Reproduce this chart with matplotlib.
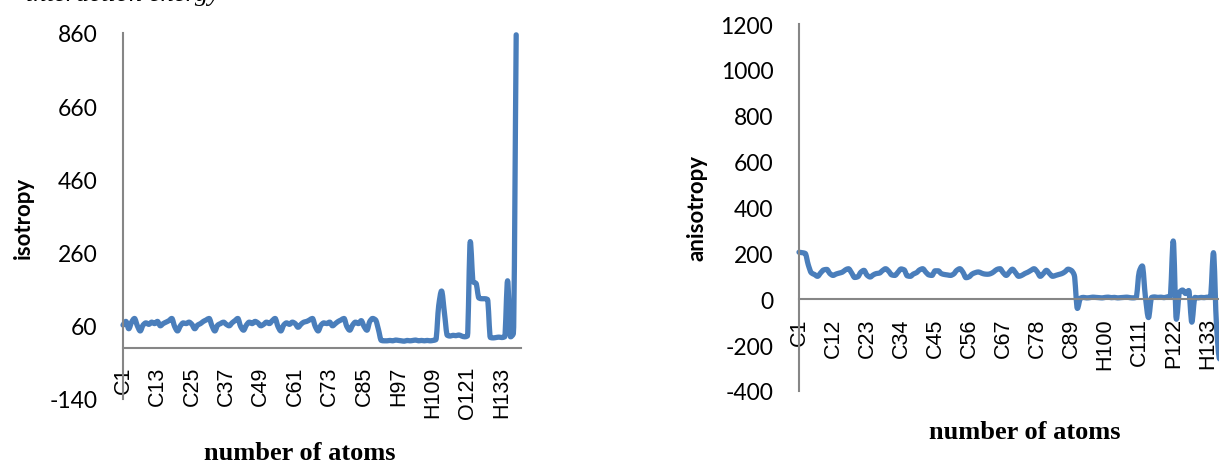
import matplotlib
matplotlib.use("Agg")
import matplotlib.pyplot as plt
from matplotlib.path import Path
from matplotlib.patches import PathPatch

W, H = 1219, 464
DPI = 100

# atom names: element runs, numbered in order
element_runs = [("C", 90), ("H", 20), ("C", 2), ("H", 8), ("O", 1), ("P", 1), ("O", 4), ("H", 12)]
atoms = []
for el, n in element_runs:
    for k in range(n):
        atoms.append(el + str(len(atoms) + 1))

isotropy = [
    62, 72, 52, 70, 80, 60, 46, 62, 68, 64, 70, 66,
    72, 60, 66, 70, 74, 80, 58, 46, 60, 68, 66, 70,
    64, 52, 62, 66, 72, 76, 80, 60, 46, 62, 66, 70,
    64, 60, 68, 74, 80, 58, 48, 62, 70, 66, 72, 68,
    60, 64, 70, 66, 74, 80, 58, 46, 62, 68, 64, 70,
    66, 56, 64, 70, 72, 76, 80, 58, 46, 62, 68, 66,
    70, 60, 66, 72, 76, 80, 58, 48, 62, 70, 66, 74,
    58, 48, 72, 80, 76, 50,
    20, 19, 19, 20, 19, 21, 20, 19, 18, 20, 19, 20, 21, 19, 20, 19, 20, 19, 20, 22,
    115, 155, 95, 34, 32, 34, 33, 35, 32, 30, 32, 290, 180, 176,
    136, 134, 134, 132, 28, 27, 28, 29, 28, 30, 183, 30, 38, 855,
]

# the last points run past the right edge of the picture
anisotropy = [
    205, 203, 200, 150,
    115, 108, 100, 115, 128, 130, 112, 104, 110, 114, 118, 128,
    133, 115, 95, 98, 118, 126, 105, 97, 106, 112, 114, 125,
    133, 122, 106, 104, 118, 132, 128, 102, 100, 110, 116, 128,
    133, 118, 106, 104, 124, 124, 112, 108, 106, 104, 110, 126,
    133, 118, 94, 98, 110, 116, 119, 114, 110, 109, 112, 120,
    130, 133, 116, 104, 118, 131, 116, 100, 104, 112, 118, 126,
    133, 120, 100, 112, 126, 112, 100, 104, 108, 112, 120, 131,
    126, 105,
    -40, 5, 8, 6, 7, 9, 8, 7, 6, 8, 9, 7, 8, 6, 7, 8, 9, 7, 6, 8,
    120, 145, 10, -80, 8, 10, 8, 9, 7, 10, 12, 254, -87, 30,
    40, 25, 38, -100, 8, 6, 8, 7, 9, 8, 203, -120, -260, -240,
]

iso_ticks = [-140, 60, 260, 460, 660, 860]
aniso_ticks = [-400, -200, 0, 200, 400, 600, 800, 1000, 1200]

blue = "#4a7ebb"
grey = "#868686"

fig = plt.figure(figsize=(W / DPI, H / DPI), dpi=DPI)


def axes_px(x0, top, x1, bot):
    return fig.add_axes([x0 / W, 1 - bot / H, (x1 - x0) / W, (bot - top) / H])


def smooth_path(ys):
    # smoothed line, monotone cubic tangents drawn as beziers (no overshoot)
    n = len(ys)
    d = [ys[k + 1] - ys[k] for k in range(n - 1)]
    m = [d[0]]
    for k in range(1, n - 1):
        if d[k - 1] * d[k] <= 0:
            m.append(0.0)
        else:
            m.append(2.0 / (1.0 / d[k - 1] + 1.0 / d[k]))
    m.append(d[-1])
    verts = [(0, ys[0])]
    codes = [Path.MOVETO]
    for k in range(n - 1):
        verts += [(k + 1 / 3, ys[k] + m[k] / 3),
                  (k + 2 / 3, ys[k + 1] - m[k + 1] / 3),
                  (k + 1, ys[k + 1])]
        codes += [Path.CURVE4] * 3
    return Path(verts, codes)


def draw(ax, values, yticks, step, xmax):
    # spine position first: it resets the tick labels
    for s in ["top", "right"]:
        ax.spines[s].set_visible(False)
    for s in ["left", "bottom"]:
        ax.spines[s].set_color(grey)
        ax.spines[s].set_linewidth(1.5)
    ax.spines["bottom"].set_position(("data", 0))

    ax.add_patch(PathPatch(smooth_path(values), fill=False, edgecolor=blue, lw=3.8,
                           joinstyle="round", capstyle="round", clip_on=False))
    ax.set_xlim(0, xmax)
    ax.set_ylim(yticks[0], yticks[-1])
    ax.set_yticks(yticks)
    ax.set_yticklabels([str(t) for t in yticks], family="Lato", fontsize=16.5)
    pos = list(range(0, len(atoms), step))
    ax.set_xticks(pos)
    ax.set_xticklabels([atoms[p] for p in pos], rotation=90,
                       family="Liberation Sans", fontsize=15.5)
    ax.tick_params(axis="y", length=0, pad=18.5)
    ax.tick_params(axis="x", length=0, pad=13)
    ax.patch.set_alpha(0)


ax1 = axes_px(123, 34, 521, 400)
draw(ax1, isotropy, iso_ticks, 12, (521 - 123) / 2.87)

ax2 = axes_px(799, 25, 799 + 138.3 * 3.093, 392)
draw(ax2, anisotropy, aniso_ticks, 11, 138.3)

fig.text(23 / W, 1 - 217.5 / H, "isotropy", rotation=90, ha="center", va="center",
         family="Lato", weight="bold", fontsize=16)
fig.text(697 / W, 1 - 208 / H, "anisotropy", rotation=90, ha="center", va="center",
         family="Lato", weight="bold", fontsize=16)
fig.text(300 / W, 1 - 460.5 / H, "number of atoms", ha="center", va="baseline",
         family="Liberation Serif", weight="bold", fontsize=19)
fig.text(1025 / W, 1 - 439 / H, "number of atoms", ha="center", va="baseline",
         family="Liberation Serif", weight="bold", fontsize=19)
fig.text(26 / W, 1 - 0.5 / H, "interaction energy", ha="left", va="baseline",
         family="Liberation Serif", style="italic", fontsize=19)

fig.savefig("out.png", dpi=DPI)
